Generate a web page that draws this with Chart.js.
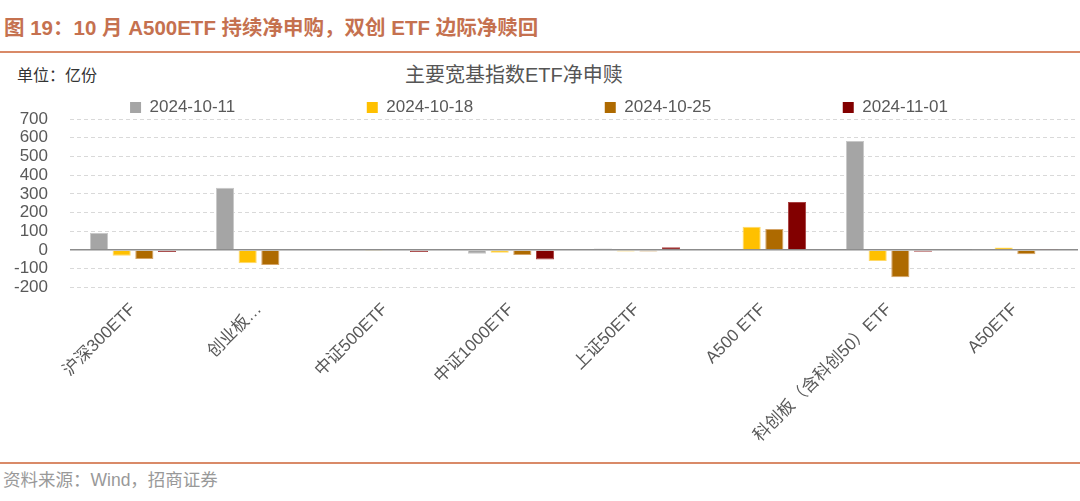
<!DOCTYPE html>
<html>
<head>
<meta charset="utf-8">
<script src="https://cdn.jsdelivr.net/npm/chart.js@4"></script>
<style>
  html, body { margin: 0; padding: 0; background: #fff; width: 1080px; height: 501px; overflow: hidden; }
  body { position: relative; font-family: "Liberation Sans", Arial, "Noto Sans CJK SC", sans-serif; }
  #title { position: absolute; left: 4px; top: 11px; font-size: 20.5px; font-weight: bold; color: #C5714F; white-space: nowrap; }
  .rule { position: absolute; left: 0; width: 1080px; height: 2px; background: #D98A68; }
  #unit { position: absolute; left: 17px; top: 62px; font-size: 16px; color: #333; }
  #ctitle { position: absolute; left: 405px; top: 59px; font-size: 20px; color: #555; white-space: nowrap; }
  #src { position: absolute; left: 3px; top: 466px; font-size: 17.5px; color: #999; white-space: nowrap; }
  #wrap { position: absolute; left: 0; top: 95px; width: 1080px; height: 367px; }
</style>
</head>
<body>
<div id="title">图 19：10 月 A500ETF 持续净申购，双创 ETF 边际净赎回</div>
<div class="rule" style="top:51px"></div>
<div id="unit">单位：亿份</div>
<div id="ctitle">主要宽基指数ETF净申赎</div>
<div id="wrap"><canvas id="c" width="1080" height="367"></canvas></div>
<div class="rule" style="top:462px"></div>
<div id="src">资料来源：Wind，招商证券</div>
<script>
const categories = ["沪深300ETF", "创业板…", "中证500ETF", "中证1000ETF", "上证50ETF", "A500 ETF", "科创板（含科创50）ETF", "A50ETF"];
const seriesNames = ["2024-10-11", "2024-10-18", "2024-10-25", "2024-11-01"];
const s20241011 = [91, 333, 0, -20, 8, 0, 582, 5];
const s20241018 = [-30, -70, -5, -15, -8, 125, -58, 14];
const s20241025 = [-48, -80, 0, -27, -8, 113, -145, -22];
const s20241101 = [-11, 0, -10, -51, 15, 257, -9, 5];
const yTicks = [-200, -100, 0, 100, 200, 300, 400, 500, 600, 700];

const colors = ["#A5A5A5", "#FFC000", "#AE6A00", "#820000"];
const borders = ["#C8C8C8", "#FFD966", "#D4A467", "#A84040"];
const seriesData = [s20241011, s20241018, s20241025, s20241101];

const FONT = "'Liberation Sans', Arial, 'Noto Sans CJK SC', sans-serif";

const legendHeightFix = {
  id: 'legendHeightFix',
  beforeLayout(chart) {
    const lg = chart.legend;
    if (lg && !lg._hfix) {
      const f = lg.fit;
      lg.fit = function () { f.call(this); this.height -= 7; };
      lg._hfix = true;
    }
  }
};

new Chart(document.getElementById('c'), {
  type: 'bar',
  data: {
    labels: categories,
    datasets: seriesNames.map((n, i) => ({
      label: n,
      data: seriesData[i],
      backgroundColor: colors[i],
      borderColor: borders[i],
      borderWidth: 1,
      categoryPercentage: 0.72,
      barPercentage: 0.8
    }))
  },
  plugins: [legendHeightFix],
  options: {
    responsive: false,
    animation: false,
    layout: { padding: { left: 0, right: 2, top: 0, bottom: 0 } },
    plugins: {
      tooltip: { enabled: false },
      legend: {
        position: 'top',
        labels: {
          boxWidth: 11,
          boxHeight: 11,
          padding: 4,
          color: '#595959',
          font: { size: 17, family: FONT, lineHeight: 0.6 },
          generateLabels(chart) {
            const items = Chart.defaults.plugins.legend.labels.generateLabels(chart);
            items.forEach((it, i) => {
              it.lineWidth = 0;
              it.strokeStyle = 'rgba(0,0,0,0)';
              if (i < items.length - 1) it.text = it.text + '\u00A0'.repeat(27);
            });
            return items;
          }
        }
      }
    },
    scales: {
      x: {
        grid: { display: false, drawTicks: false },
        border: { display: false },
        ticks: {
          autoSkip: false,
          minRotation: 45,
          maxRotation: 45,
          padding: 12,
          color: '#595959',
          font: { size: 17, family: FONT }
        },
        afterFit(scale) { scale.height = 174.5; }
      },
      y: {
        min: -200,
        max: 700,
        afterBuildTicks(scale) { scale.ticks = yTicks.map(v => ({ value: v })); },
        grid: {
          drawTicks: false,
          color: ctx => (ctx.tick && ctx.tick.value === 0) ? '#8C8C8C' : '#D9D9D9',
          lineWidth: ctx => (ctx.tick && ctx.tick.value === 0) ? 1.5 : 1
        },
        border: {
          display: false,
          dash: ctx => (ctx.tick && ctx.tick.value === 0) ? [] : [4, 3]
        },
        ticks: {
          autoSkip: false,
          padding: 22,
          color: '#595959',
          font: { size: 17, family: FONT }
        },
        afterFit(scale) { scale.width = 70; scale.paddingTop = 0; scale.paddingBottom = 0; }
      }
    }
  }
});
</script>
</body>
</html>
